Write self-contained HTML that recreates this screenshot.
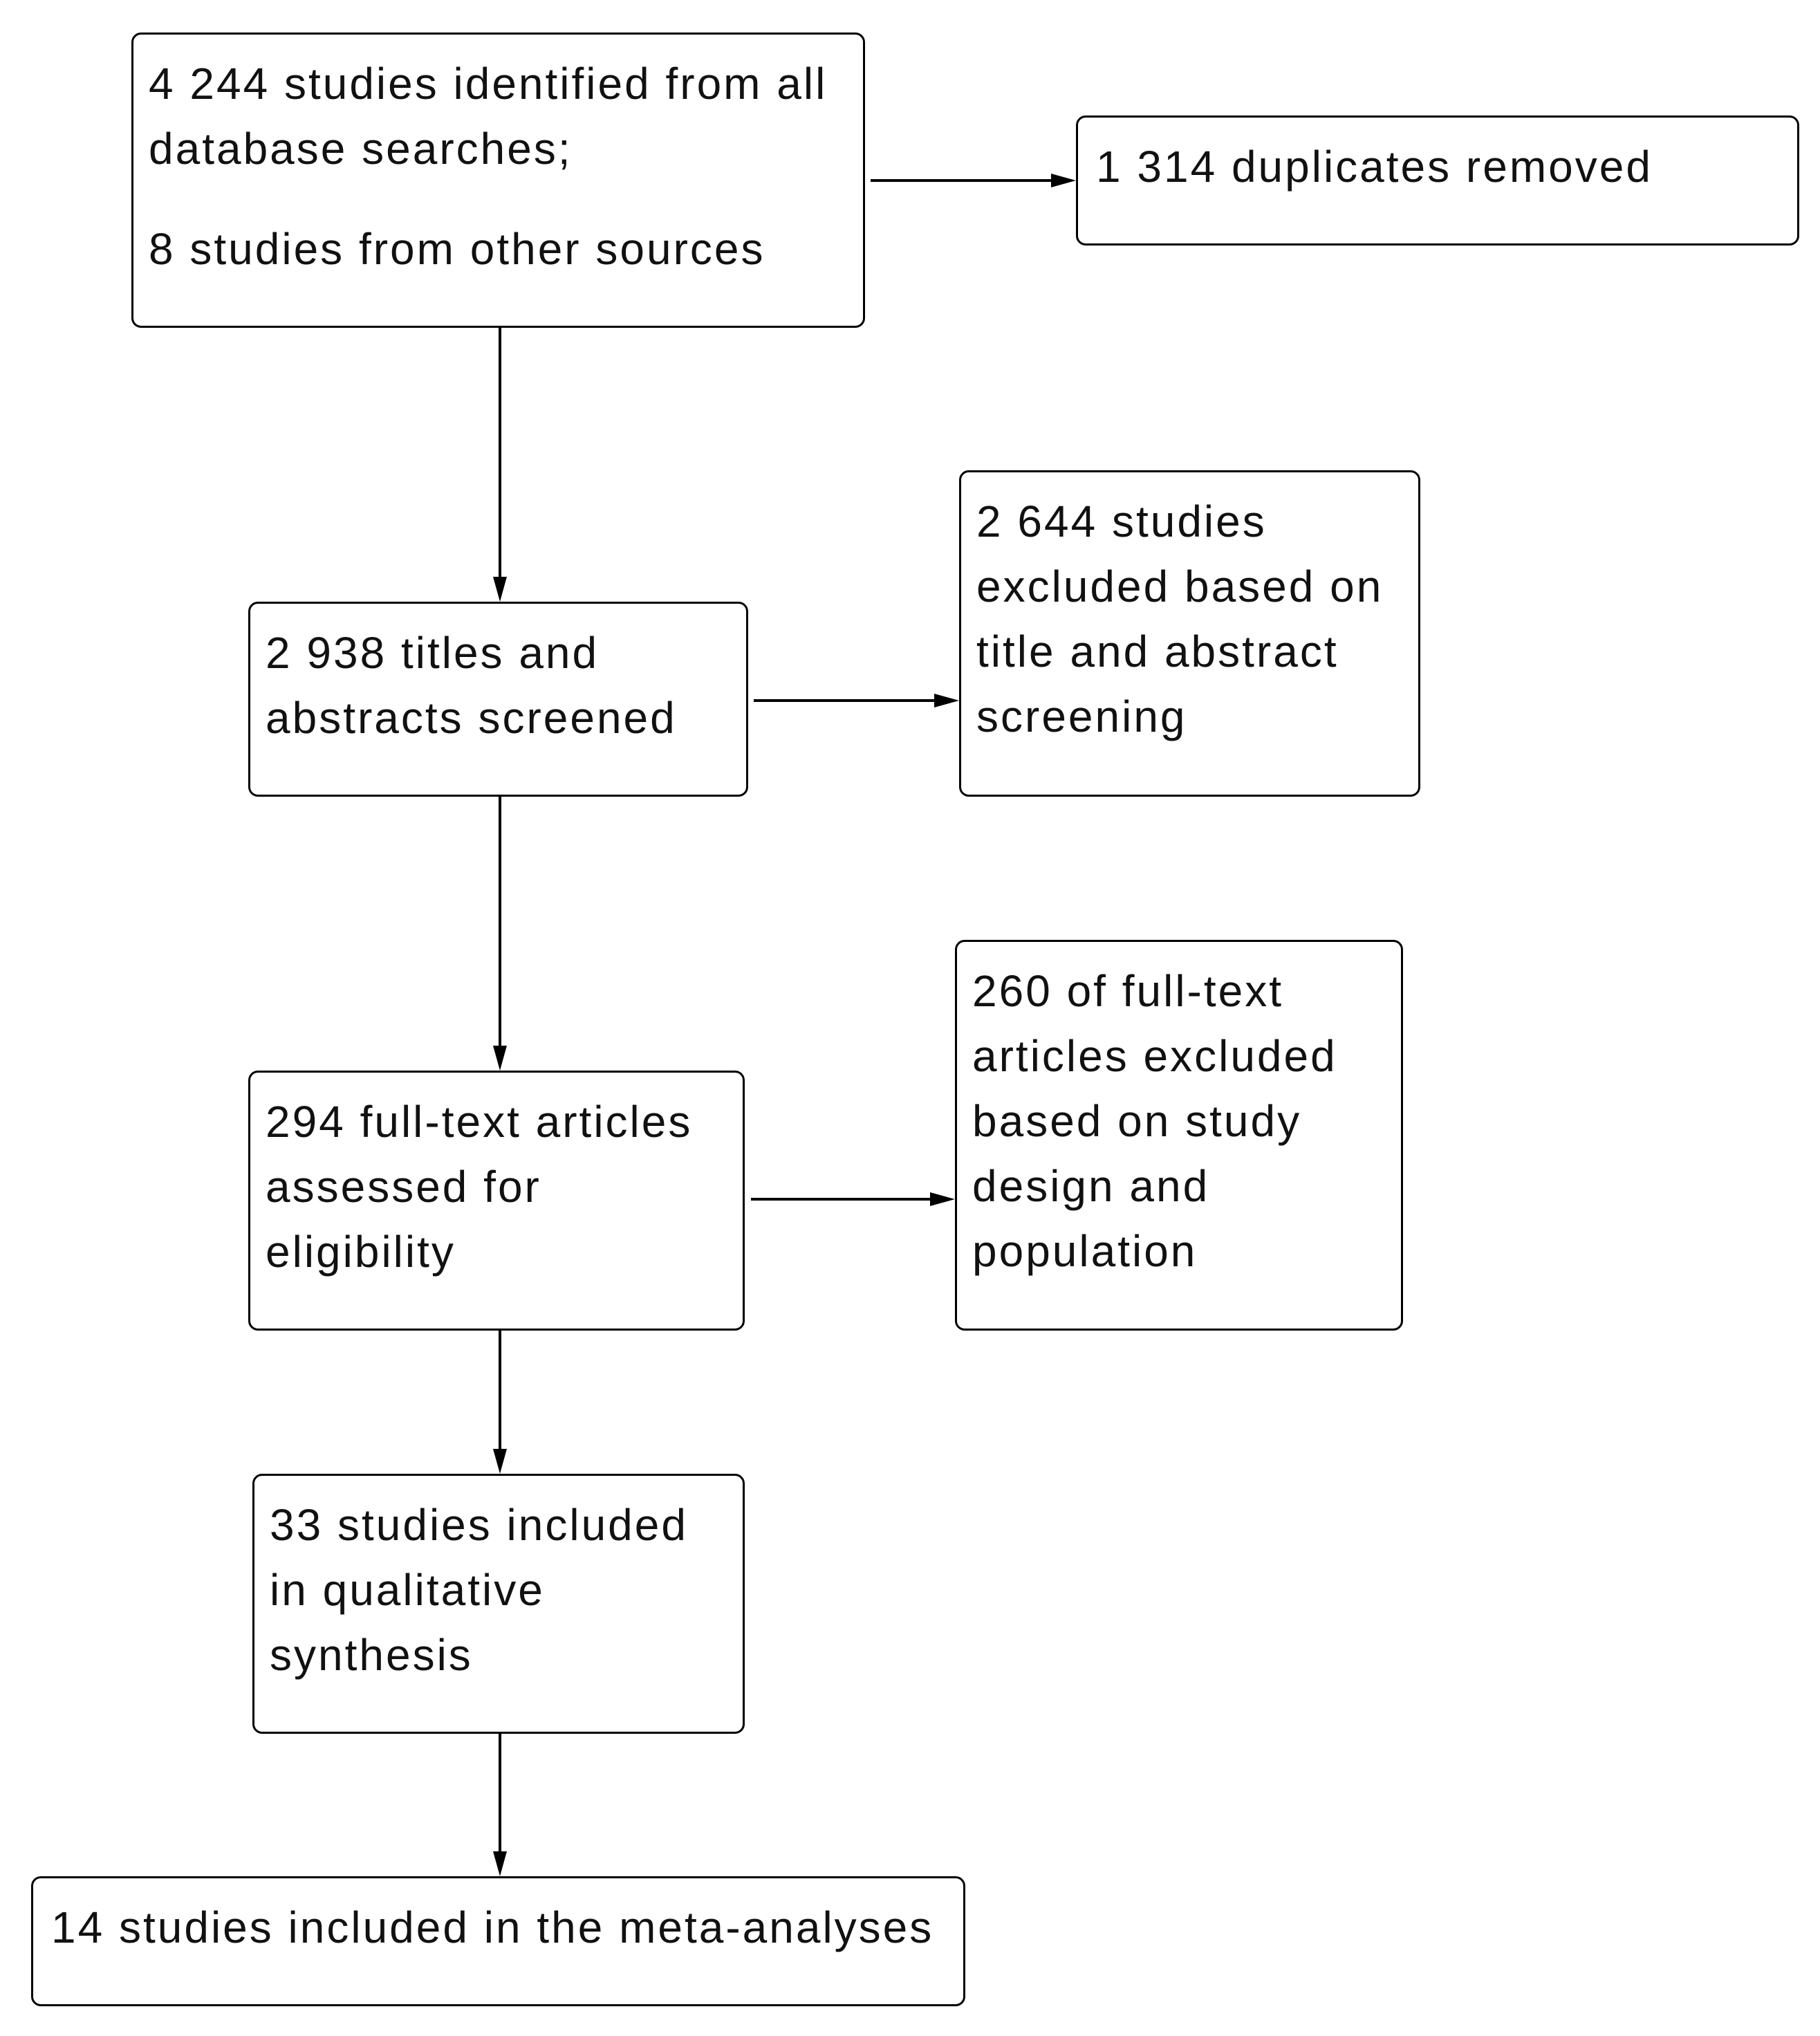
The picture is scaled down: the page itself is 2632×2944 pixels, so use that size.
<!DOCTYPE html>
<html><head><meta charset="utf-8"><style>
html,body{margin:0;padding:0;background:#fff;}
body{width:2632px;height:2944px;position:relative;overflow:hidden;font-family:"Liberation Sans",sans-serif;}
.b{position:absolute;box-sizing:border-box;border:3px solid #000;border-radius:14px;padding:24px 0 0 22px;font-size:64px;letter-spacing:3px;line-height:94px;color:#111;white-space:nowrap;}
svg{position:absolute;left:0;top:0;}
</style></head><body>
<svg width="2632" height="2944">
<g stroke="#000" stroke-width="4" fill="none">
<line x1="1259" y1="261" x2="1540" y2="261"/>
<line x1="723" y1="474" x2="723" y2="854"/>
<line x1="1090" y1="1013" x2="1371" y2="1013"/>
<line x1="723" y1="1152" x2="723" y2="1532"/>
<line x1="1086" y1="1734" x2="1365" y2="1734"/>
<line x1="723" y1="1924" x2="723" y2="2115"/>
<line x1="723" y1="2507" x2="723" y2="2697"/>
</g>
<g fill="#000">
<polygon points="1520,251 1556,261 1520,271"/>
<polygon points="1351,1003 1387,1013 1351,1023"/>
<polygon points="1345,1724 1381,1734 1345,1744"/>
<polygon points="713,834 723,870 733,834"/>
<polygon points="713,1512 723,1548 733,1512"/>
<polygon points="713,2095 723,2131 733,2095"/>
<polygon points="713,2677 723,2713 733,2677"/>
</g>
</svg>
<div class="b" style="left:190px;top:47px;width:1061px;height:427px;">4 244 studies identified from all<br>database searches;<div style="height:51px"></div>8 studies from other sources</div>
<div class="b" style="left:1556px;top:167px;width:1046px;height:188px;padding-left:26px;">1 314 duplicates removed</div>
<div class="b" style="left:359px;top:870px;width:723px;height:282px;">2 938 titles and<br>abstracts screened</div>
<div class="b" style="left:1387px;top:680px;width:667px;height:472px;">2 644 studies<br>excluded based on<br>title and abstract<br>screening</div>
<div class="b" style="left:359px;top:1548px;width:718px;height:376px;">294 full-text articles<br>assessed for<br>eligibility</div>
<div class="b" style="left:1381px;top:1359px;width:648px;height:565px;">260 of full-text<br>articles excluded<br>based on study<br>design and<br>population</div>
<div class="b" style="left:365px;top:2131px;width:712px;height:376px;">33 studies included<br>in qualitative<br>synthesis</div>
<div class="b" style="left:45px;top:2713px;width:1351px;height:188px;padding-left:26px;">14 studies included in the meta-analyses</div>
</body></html>
